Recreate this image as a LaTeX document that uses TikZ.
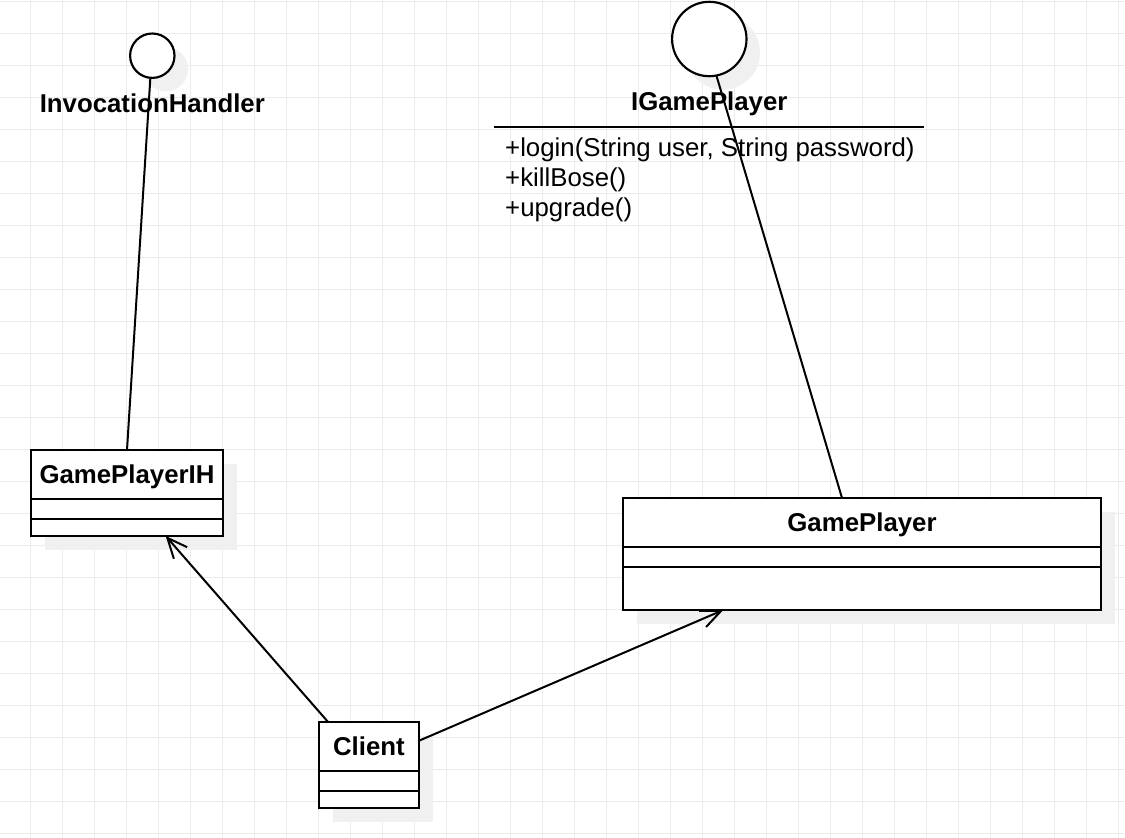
\documentclass[tikz,border=0pt]{standalone}
\usepackage{fontspec}
\setmainfont{Liberation Sans}
\usetikzlibrary{arrows.meta,positioning,shadows}

\begin{document}
\begin{tikzpicture}[
    x=1pt, y=-1pt,
    node distance=0pt,
    gridline/.style={draw=black!8, line width=1pt},
    shadebox/.style={drop shadow={shadow xshift=14pt, shadow yshift=-14pt, fill=black!6, opacity=1}},
    classhead/.style={rectangle, draw, line width=2.15pt, fill=white, outer sep=0pt, inner sep=0pt, minimum width=#1, minimum height=49pt, text height=18.5pt, text depth=0pt, font=\bfseries\fontsize{25.8}{30}\selectfont, shadebox},
    classpart/.style 2 args={rectangle, draw, line width=2.15pt, fill=white, outer sep=0pt, inner sep=0pt, minimum width=#1, minimum height=#2, shadebox},
    iface/.style={circle, draw, line width=2.15pt, fill=white, outer sep=0pt, inner sep=0pt, minimum size=#1, drop shadow={shadow xshift=13.5pt, shadow yshift=-13.5pt, fill=black!6, opacity=1}},
    ifacelabel/.style={anchor=base, inner sep=0pt, font=\bfseries\fontsize{25.8}{30}\selectfont},
    method/.style={anchor=base west, inner sep=0pt, font=\fontsize{25.8}{30}\selectfont},
    link/.style={line width=2pt},
    assoc/.style={line width=2pt, -{Straight Barb[length=20pt, width=17.6pt]}}
]
\useasboundingbox (0,0) rectangle (1125,838);

% Background grid
\foreach \gx in {0,...,34} \draw[gridline] ({30.7+32*\gx},0) -- ({30.7+32*\gx},838);
\foreach \gy in {0,...,26} \draw[gridline] (0,{1.3+32*\gy}) -- (1125,{1.3+32*\gy});

% Interfaces (lollipops)
\node[iface=44.4pt] (ihc) at (152.3,55.7) {};
\node[ifacelabel] (ihlbl) at (152.3,112.3) {InvocationHandler};

\node[iface=74.4pt] (igpc) at (709.3,39) {};
\node[ifacelabel] (igplbl) at (709.3,110.7) {IGamePlayer};
\coordinate (igpsepw) at (494,127);
\coordinate (igpsepe) at (924,127);
\draw[link] (igpsepw) -- (igpsepe);
\foreach \m [count=\k] in {{+login(String user, String password)}, {+killBose()}, {+upgrade()}}
    \node[method] (meth\k) at (505,{126+30*\k}) {\m};

% Classes
\node[classhead=192pt] (gpih) at (127,474.5) {GamePlayerIH};
\node[classpart={192pt}{20pt}, below=of gpih] (gpih2) {};
\node[classpart={192pt}{17pt}, below=of gpih2] (gpih3) {};

\node[classhead=478pt] (gp) at (862,522.5) {GamePlayer};
\node[classpart={478pt}{20pt}, below=of gp] (gp2) {};
\node[classpart={478pt}{43pt}, below=of gp2] (gp3) {};

\node[classhead=100.3pt] (client) at (368.9,746.3) {Client};
\node[classpart={100.3pt}{20pt}, below=of client] (client2) {};
\node[classpart={100.3pt}{17pt}, below=of client2] (client3) {};

% Realizations
\draw[link] (ihc.265) -- (gpih.north);
\draw[link] (igpc.-79) -- ([xshift=-20pt]gp.north);

% Associations
\draw[assoc] ([xshift=-41pt]client.north) -- ([xshift=38.7pt]gpih3.south);
\draw[assoc] ([yshift=5.6pt]client.east) -- ([xshift=-138.7pt]gp3.south);

\end{tikzpicture}
\end{document}
